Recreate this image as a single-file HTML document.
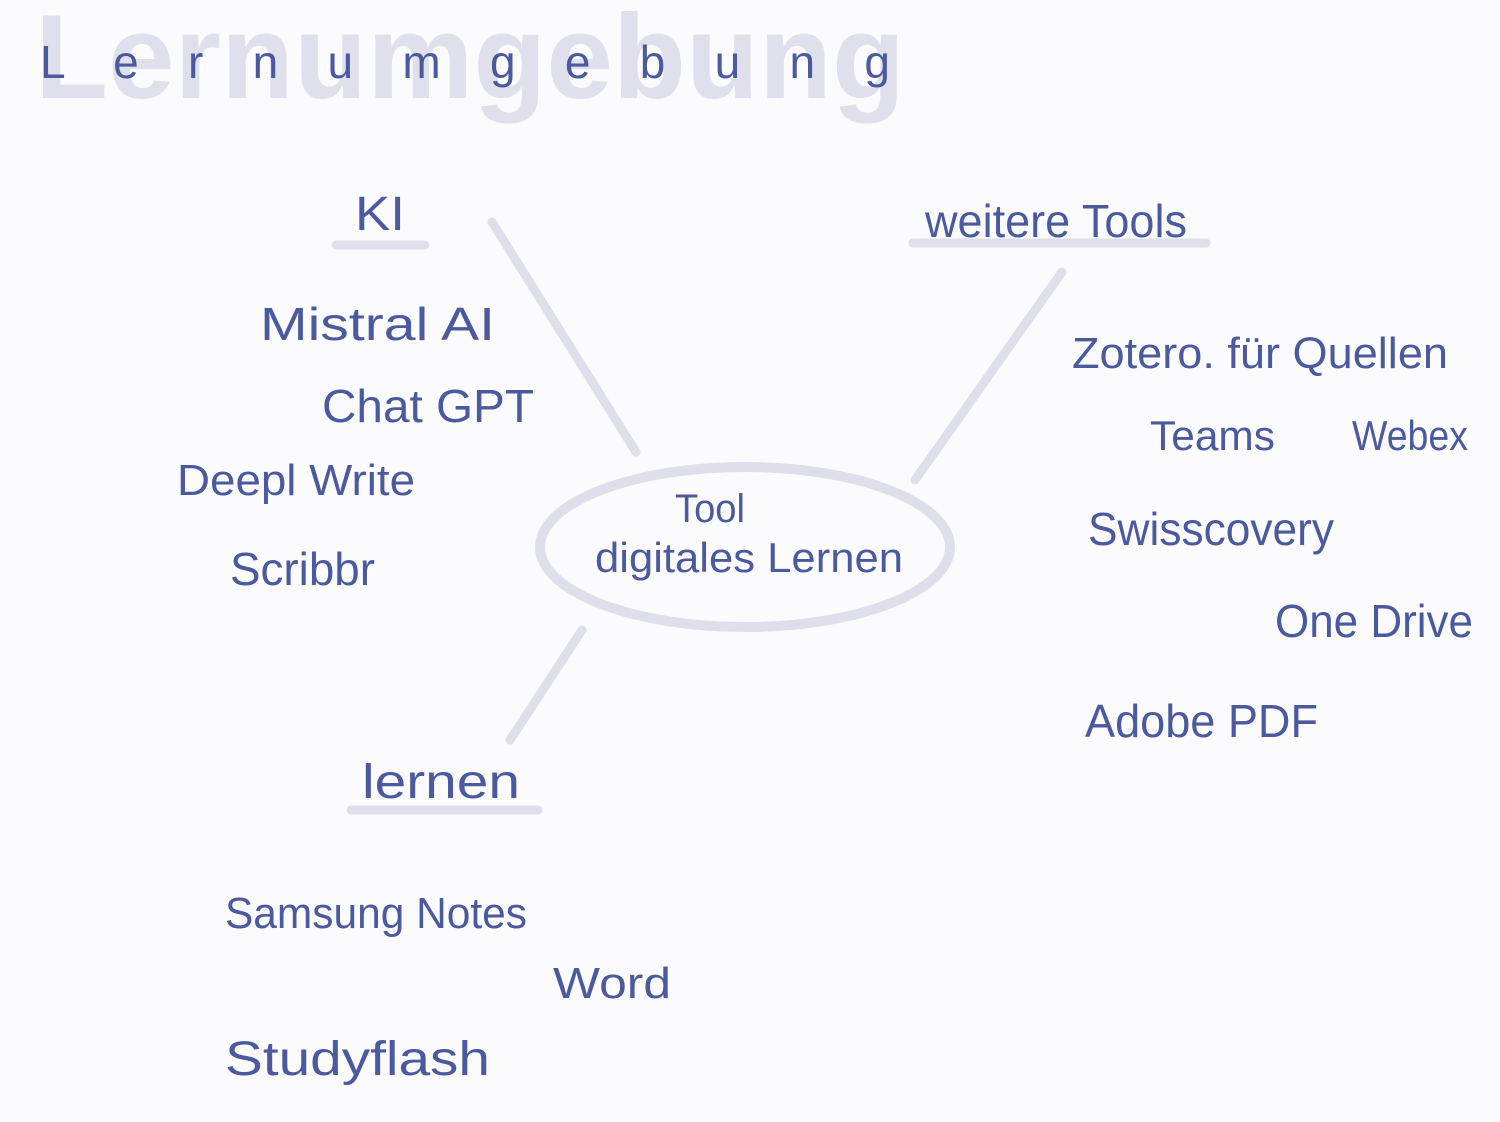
<!DOCTYPE html>
<html><head><meta charset="utf-8"><style>
html,body{margin:0;padding:0;background:#fbfbfd;}
svg{display:block}
text{font-family:"Liberation Sans",sans-serif;fill:#4b5a9e;}
.bg{fill:#e0e0ec;font-weight:bold;}
</style></head><body>
<svg width="1500" height="1122" viewBox="0 0 1500 1122">
<rect width="1500" height="1122" fill="#fbfbfd"/>
<text class="bg" x="35" y="98" font-size="120" textLength="870" lengthAdjust="spacingAndGlyphs">Lernumgebung</text>
<text x="40" y="78" font-size="46" textLength="850" lengthAdjust="spacing">L e r n u m g e b u n g</text>

<g stroke="#dfdfec" stroke-width="9" stroke-linecap="round" fill="none">
<line x1="336" y1="245" x2="425" y2="245"/>
<line x1="492" y1="222" x2="636" y2="452"/>
<line x1="913" y1="243" x2="1206" y2="243"/>
<line x1="1062" y1="272" x2="915" y2="480"/>
<line x1="582" y1="630" x2="510" y2="740"/>
<line x1="351" y1="810" x2="538" y2="810"/>
<ellipse cx="745" cy="547" rx="205" ry="80" stroke-width="10"/>
</g>

<text x="355" y="230" font-size="48" textLength="50" lengthAdjust="spacingAndGlyphs">KI</text>
<text x="260" y="340" font-size="46" textLength="235" lengthAdjust="spacingAndGlyphs">Mistral AI</text>
<text x="322" y="422" font-size="46" textLength="212" lengthAdjust="spacingAndGlyphs">Chat GPT</text>
<text x="177" y="495" font-size="44" textLength="238" lengthAdjust="spacingAndGlyphs">Deepl Write</text>
<text x="230" y="585" font-size="46" textLength="145" lengthAdjust="spacingAndGlyphs">Scribbr</text>

<text x="675" y="522" font-size="40" textLength="70" lengthAdjust="spacingAndGlyphs">Tool</text>
<text x="595" y="572" font-size="42" textLength="308" lengthAdjust="spacingAndGlyphs">digitales Lernen</text>

<text x="925" y="237" font-size="46" textLength="262" lengthAdjust="spacingAndGlyphs">weitere Tools</text>
<text x="1072" y="368" font-size="44" textLength="376" lengthAdjust="spacingAndGlyphs">Zotero. für Quellen</text>
<text x="1150" y="450" font-size="42" textLength="125" lengthAdjust="spacingAndGlyphs">Teams</text>
<text x="1352" y="450" font-size="42" textLength="116" lengthAdjust="spacingAndGlyphs">Webex</text>
<text x="1088" y="545" font-size="46" textLength="246" lengthAdjust="spacingAndGlyphs">Swisscovery</text>
<text x="1275" y="637" font-size="46" textLength="198" lengthAdjust="spacingAndGlyphs">One Drive</text>
<text x="1085" y="737" font-size="46" textLength="233" lengthAdjust="spacingAndGlyphs">Adobe PDF</text>

<text x="362" y="798" font-size="48" textLength="158" lengthAdjust="spacingAndGlyphs">lernen</text>
<text x="225" y="928" font-size="44" textLength="302" lengthAdjust="spacingAndGlyphs">Samsung Notes</text>
<text x="553" y="998" font-size="44" textLength="118" lengthAdjust="spacingAndGlyphs">Word</text>
<text x="225" y="1075" font-size="48" textLength="265" lengthAdjust="spacingAndGlyphs">Studyflash</text>
</svg>
</body></html>
